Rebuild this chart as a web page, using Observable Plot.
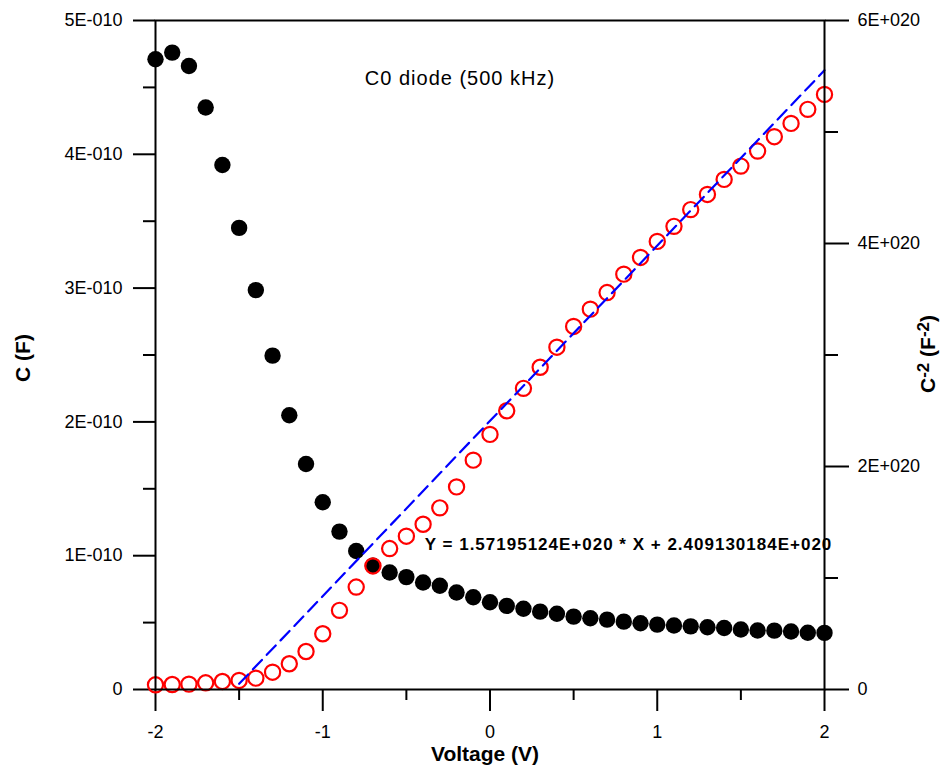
<!DOCTYPE html>
<html><head><meta charset="utf-8">
<script src="https://cdn.jsdelivr.net/npm/d3@7"></script>
<script src="https://cdn.jsdelivr.net/npm/@observablehq/plot@0.6"></script>
<style>
body{margin:0;background:#fff;}
#wrap{position:relative;width:941px;height:769px;background:#fff;}
#wrap svg{position:absolute;left:0;top:0;}
</style></head><body><div id="wrap"></div>
<script>
const voltage = [-2.0,-1.9,-1.8,-1.7,-1.6,-1.5,-1.4,-1.3,-1.2,-1.1,-1.0,-0.9,-0.8,-0.7,-0.6,-0.5,-0.4,-0.3,-0.2,-0.1,
  0.0,0.1,0.2,0.3,0.4,0.5,0.6,0.7,0.8,0.9,1.0,1.1,1.2,1.3,1.4,1.5,1.6,1.7,1.8,1.9,2.0];
const capacitance = [4.71e-10,4.76e-10,4.66e-10,4.35e-10,3.92e-10,3.45e-10,2.985e-10,2.495e-10,2.05e-10,1.685e-10,
  1.40e-10,1.18e-10,1.035e-10,0.925e-10,0.875e-10,0.84e-10,0.80e-10,0.775e-10,0.725e-10,0.69e-10,
  0.652e-10,0.625e-10,0.603e-10,0.582e-10,0.566e-10,0.545e-10,0.532e-10,0.522e-10,0.507e-10,0.495e-10,
  0.485e-10,0.478e-10,0.472e-10,0.465e-10,0.46e-10,0.448e-10,0.441e-10,0.44e-10,0.433e-10,0.424e-10,0.423e-10];
const invCapSquared = [0.042e20,0.045e20,0.048e20,0.060e20,0.072e20,0.081e20,0.102e20,0.155e20,0.231e20,0.341e20,
  0.50e20,0.71e20,0.919e20,1.108e20,1.264e20,1.375e20,1.482e20,1.629e20,1.817e20,2.057e20,
  2.288e20,2.50e20,2.701e20,2.89e20,3.07e20,3.256e20,3.411e20,3.56e20,3.725e20,3.875e20,
  4.019e20,4.154e20,4.304e20,4.44e20,4.575e20,4.694e20,4.829e20,4.958e20,5.077e20,5.203e20,5.337e20];
const fitSlope = 1.57195124e20;
const fitIntercept = 2.409130184e20;
const fitRange = [-1.5, 2];
const xTicks = [-2,-1,0,1,2];
const xMinorTicks = [-1.5,-0.5,0.5,1.5];
const cTicks = [0,1e-10,2e-10,3e-10,4e-10,5e-10];
const cTickLabels = ["0","1E-010","2E-010","3E-010","4E-010","5E-010"];
const cMinorTicks = [0.5e-10,1.5e-10,2.5e-10,3.5e-10,4.5e-10];
const c2Ticks = [0,2e20,4e20,6e20];
const c2TickLabels = ["0","2E+020","4E+020","6E+020"];
const c2MinorTicks = [1e20,3e20,5e20];
const titleText = "C0 diode (500 kHz)";
const equationText = "Y = 1.57195124E+020 * X + 2.409130184E+020";
const xLabel = "Voltage (V)";
const yLabel = "C (F)";
const y2Label = "C-2 (F-2)";

const dataC = voltage.map((v,i)=>({v, c: capacitance[i]}));
const dataC2 = voltage.map((v,i)=>({v, c2: invCapSquared[i]}));
const fitData = fitRange.map(v=>({v, y: fitSlope*v + fitIntercept}));

const FONT = "'Liberation Sans', Arial, Helvetica, sans-serif";
const common = {
  width:941, height:769, marginLeft:155, marginRight:117, marginTop:20, marginBottom:80,
  style:{fontFamily:FONT, fontSize:"18px", background:"transparent", color:"black", overflow:"visible"}
};

const p1 = Plot.plot({
  ...common,
  x:{domain:[-2,2]},
  y:{domain:[0,5e-10]},
  marks:[
    Plot.axisX({ticks:xTicks, tickSize:22, tickPadding:14, tickFormat:d=>String(d), fontSize:18, strokeWidth:2, label:null}),
    Plot.axisX({ticks:xMinorTicks, tickSize:11, tickFormat:()=>"", strokeWidth:2, label:null}),
    Plot.axisY({ticks:cTicks, tickSize:22, tickPadding:11, tickFormat:d=>cTickLabels[cTicks.indexOf(d)], fontSize:18, strokeWidth:2, label:null}),
    Plot.axisY({ticks:cMinorTicks, tickSize:12, tickFormat:()=>"", strokeWidth:2, label:null}),
    Plot.dot(dataC, {x:"v", y:"c", r:8.2, fill:"black"}),
    Plot.text([titleText], {frameAnchor:"top", dx:-30, dy:58, fontSize:20, textAnchor:"middle", lineAnchor:"middle", fill:"black"}),
    Plot.text([xLabel], {frameAnchor:"bottom", dx:-5, dy:65, fontSize:21, fontWeight:"bold", textAnchor:"middle", lineAnchor:"middle", fill:"black"}),
    Plot.text([yLabel], {frameAnchor:"left", dx:-132, dy:3, rotate:-90, fontSize:21, fontWeight:"bold", textAnchor:"middle", lineAnchor:"middle", fill:"black"})
  ]
});

const p2 = Plot.plot({
  ...common,
  x:{domain:[-2,2], axis:null},
  y:{domain:[0,6e20], axis:null},
  marks:[
    Plot.dot(dataC2, {x:"v", y:"c2", r:7.6, stroke:"#ff0000", strokeWidth:2.2, fill:"none"}),
    Plot.line(fitData, {x:"v", y:"y", stroke:"#0000ff", strokeWidth:2.2, strokeDasharray:"13,7"}),
    Plot.text([equationText], {x:-0.39, y:1.30e20, textAnchor:"start", lineAnchor:"middle", fontSize:17, fontWeight:"bold", fill:"black"}),
    Plot.axisY({anchor:"right", ticks:c2Ticks, tickSize:24, tickPadding:9, tickFormat:d=>c2TickLabels[c2Ticks.indexOf(d)], fontSize:18, strokeWidth:2, label:null}),
    Plot.axisY({anchor:"right", ticks:c2MinorTicks, tickSize:13, tickFormat:()=>"", strokeWidth:2, label:null}),
    Plot.frame({stroke:"black", strokeWidth:2}),
    Plot.text([y2Label], {frameAnchor:"right", dx:104, dy:-1, rotate:-90, fontSize:21, fontWeight:"bold", textAnchor:"middle", lineAnchor:"middle", fill:"black"})
  ]
});

const wrap = document.getElementById("wrap");
wrap.appendChild(p1);
wrap.appendChild(p2);

d3.select(p1).selectAll("text").filter(function(){return this.textContent===titleText;}).attr("letter-spacing","1px");
d3.select(p2).selectAll("text").filter(function(){return this.textContent===equationText;}).attr("letter-spacing","1px");
const t2 = d3.select(p2).selectAll("text").filter(function(){return this.textContent===y2Label;});
t2.text(null);
t2.append("tspan").text("C");
t2.append("tspan").attr("font-size","17px").attr("dy","-6px").text("-2");
t2.append("tspan").attr("dy","6px").text(" (F");
t2.append("tspan").attr("font-size","17px").attr("dy","-6px").text("-2");
t2.append("tspan").attr("dy","6px").text(")");
</script></body></html>
